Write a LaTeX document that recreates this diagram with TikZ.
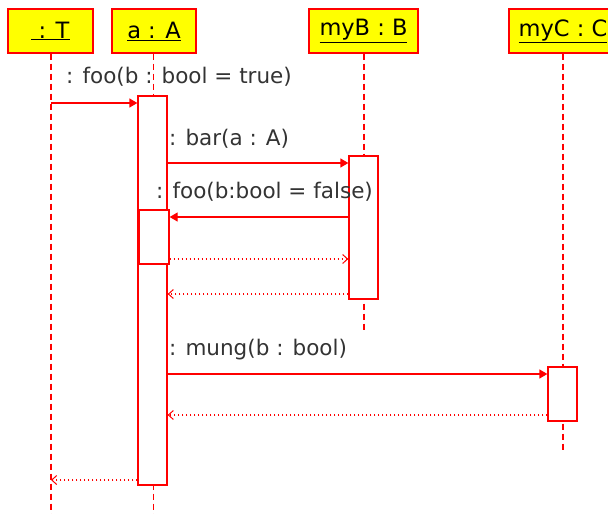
\documentclass[tikz,border=0pt]{standalone}
\usepackage{fontspec}
\setmainfont{DejaVu Sans}
\usetikzlibrary{arrows.meta}
\definecolor{hdryellow}{HTML}{FFFF00}
\definecolor{umlred}{HTML}{FF0000}
\definecolor{txtgray}{HTML}{333333}
\begin{document}
\begin{tikzpicture}[x=1pt,y=-1pt,
  hdr/.style={draw=umlred, fill=hdryellow, line width=1.3pt, minimum height=44pt, inner sep=0pt, font=\fontsize{22.5}{26}\selectfont, text=black},
  act/.style={draw=umlred, fill=white, line width=1.3pt, inner sep=0pt},
  life/.style={draw=umlred, line width=1.3pt, dash pattern=on 6pt off 4pt},
  call/.style={draw=umlred, line width=1.3pt, -{Triangle[length=8pt,width=9pt]}},
  ret/.style={draw=umlred, line width=1.3pt, dash pattern=on 1.5pt off 2.5pt, -{Straight Barb[length=5pt,width=9pt,line width=1pt]}},
  lbl/.style={anchor=base west, inner sep=0pt, text=txtgray, font=\fontsize{21.5}{26}\selectfont}]
\useasboundingbox (0,0) rectangle (608,514);
\clip (0,0) rectangle (608,514);
% headers
\node[hdr, minimum width=85pt] (T) at (50.5,31) {\underline{\ : T}};
\node[hdr, minimum width=84pt] (A) at (154,31) {\underline{a : A}};
\node[hdr, minimum width=109pt] (B) at (363.5,31) {\underline{myB : B}};
\node[hdr, minimum width=108pt] (C) at (563,31) {\underline{myC : C}};
% lifeline ends
\coordinate (endT) at (51,514);
\coordinate (endA) at (153.5,514);
\coordinate (endB) at (364,332);
\coordinate (endC) at (563,453);
\draw[life] (T.south -| endT) -- (endT);
\draw[life] (A.south -| endA) -- (endA);
\draw[life] (B.south -| endB) -- (endB);
\draw[life] (C.south -| endC) -- (endC);
% activations
\node[act, minimum width=29pt, minimum height=389pt] (actA) at (152.5,290.5) {};
\node[act, minimum width=30pt, minimum height=54pt] (actA2) at (154,237) {};
\node[act, minimum width=29pt, minimum height=143pt] (actB) at (363.5,227.5) {};
\node[act, minimum width=29pt, minimum height=54pt] (actC) at (562.5,394) {};
% messages
\draw[call] (endT |- 0,103) -- (actA.west |- 0,103);
\draw[call] (actA.east |- 0,163) -- (actB.west |- 0,163);
\draw[call] (actB.west |- 0,217) -- (actA2.east |- 0,217);
\draw[ret] (actA2.east |- 0,259) -- (actB.west |- 0,259);
\draw[ret] (actB.west |- 0,294) -- (actA.east |- 0,294);
\draw[call] (actA.east |- 0,374) -- (actC.west |- 0,374);
\draw[ret] (actC.west |- 0,415) -- (actA.east |- 0,415);
\draw[ret] (actA.west |- 0,480) -- (endT |- 0,480);
% labels
\node[lbl] (l1) at (66,83) {: foo(b : bool = true)};
\node[lbl] (l2) at (169,145) {: bar(a : A)};
\node[lbl] (l3) at (156,198) {: foo(b:bool = false)};
\node[lbl] (l4) at (169,355) {: mung(b : bool)};
\end{tikzpicture}
\end{document}
